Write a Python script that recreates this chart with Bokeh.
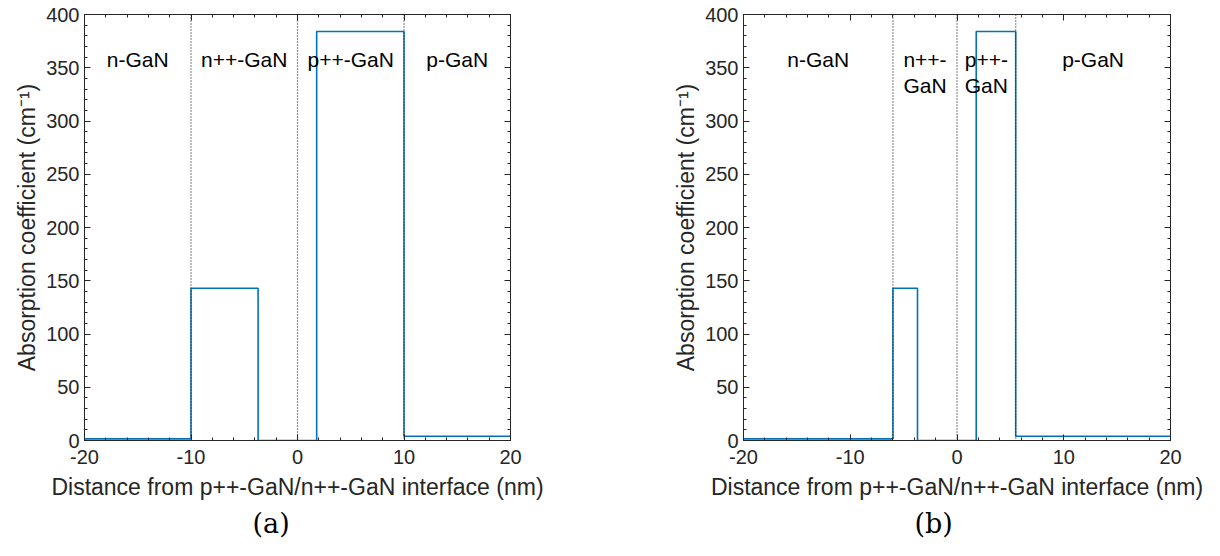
from bokeh.plotting import figure
from bokeh.models import Range1d, LinearAxis, FixedTicker, Span, Title, CustomJSTickFormatter
from bokeh.layouts import row
from bokeh.embed import file_html
from bokeh.resources import INLINE
from bokeh.core.properties import value
import numpy as np

# ---- data ----
x_ticks = [-20, -10, 0, 10, 20]
y_ticks = [0, 50, 100, 150, 200, 250, 300, 350, 400]

a_edges = [-20, -10, -3.7, 1.8, 10, 20]
a_alpha = [1.5, 143, 0, 384, 4]
a_bounds = [-10, 0, 10]
a_labels = ["n-GaN", "n++-GaN", "p++-GaN", "p-GaN"]
a_label_x = [-15, -5, 5, 15]

b_edges = [-20, -6, -3.7, 1.8, 5.5, 20]
b_alpha = [1.5, 143, 0, 384, 4]
b_bounds = [-6, 0, 5.5]
b_labels = ["n-GaN", "n++-\nGaN", "p++-\nGaN", "p-GaN"]
b_label_x = [-13, -3, 2.75, 12.75]

label_y = 358
line_gap = 24.4

AX = "#262626"
BLUE = "#0072BD"
FONT = "Liberation Sans"


def style_axis(ax, ticker, show_labels):
    ax.ticker = ticker
    ax.axis_line_color = AX
    ax.major_tick_line_color = AX
    ax.minor_tick_line_color = AX
    ax.major_tick_in = 6
    ax.major_tick_out = 0
    ax.minor_tick_in = 3
    ax.minor_tick_out = 0
    ax.major_label_text_font = FONT
    ax.major_label_text_font_size = "20px"
    ax.major_label_text_color = AX
    ax.axis_label_text_font = FONT
    ax.axis_label_text_font_size = "23px"
    ax.axis_label_text_font_style = "normal"
    ax.axis_label_text_color = AX
    if show_labels:
        ax.formatter = CustomJSTickFormatter(code="return String(tick)")
    else:
        ax.formatter = CustomJSTickFormatter(code="return ''")
        ax.major_label_standoff = 0


def panel(edges, alpha, bounds, labels, label_x, tag, ml, mr, off):
    p = figure(width=610, height=556, x_range=Range1d(-20, 20), y_range=Range1d(0, 400),
               output_backend="svg", toolbar_location=None, title=None,
               min_border_left=ml, min_border_right=mr, min_border_top=14, min_border_bottom=116)
    p.xgrid.visible = False
    p.ygrid.visible = False
    p.outline_line_color = AX
    p.background_fill_color = "white"
    p.border_fill_color = "white"

    xt = FixedTicker(ticks=x_ticks, minor_ticks=list(np.arange(-20, 21, 2)))
    yt = FixedTicker(ticks=y_ticks, minor_ticks=list(np.arange(0, 401, 10)))

    style_axis(p.xaxis[0], xt, True)
    style_axis(p.yaxis[0], yt, True)
    p.xaxis[0].axis_label = "Distance from p++-GaN/n++-GaN interface (nm)"
    p.yaxis[0].axis_label = "Absorption coefficient (cm\u207b\u00b9)"
    p.xaxis[0].major_label_standoff = 9
    p.xaxis[0].axis_label_standoff = 7
    p.yaxis[0].major_label_standoff = 5
    p.yaxis[0].axis_label_standoff = 3

    top = LinearAxis()
    style_axis(top, xt, False)
    p.add_layout(top, "above")
    right = LinearAxis()
    style_axis(right, yt, False)
    p.add_layout(right, "right")

    for b in bounds:
        p.add_layout(Span(location=b, dimension="height", line_color=AX,
                          line_dash="1 2", line_width=1.2))

    p.step(x=edges, y=alpha + [alpha[-1]], mode="after", line_color=BLUE, line_width=1.6)

    xs, ys, ts = [], [], []
    for lab, lx in zip(labels, label_x):
        for i, part in enumerate(lab.split("\n")):
            xs.append(lx)
            ys.append(label_y - i * line_gap)
            ts.append(part)
    p.text(x=xs, y=ys, text=ts, text_align="center", text_baseline="middle",
           text_font=value(FONT), text_font_size="21px", text_color="black")

    t = Title(text=tag, align="left", text_font="DejaVu Serif", text_font_size="27px",
              text_font_style="normal", text_color="black", offset=off, standoff=6)
    p.add_layout(t, "below")
    return p


pa = panel(a_edges, a_alpha, a_bounds, a_labels, a_label_x, "(a)", 84, 100, 168)
pb = panel(b_edges, b_alpha, b_bounds, b_labels, b_label_x, "(b)", 133, 50, 171)

layout = row(pa, pb, spacing=0)
open("out.html", "w").write(file_html(layout, INLINE))
